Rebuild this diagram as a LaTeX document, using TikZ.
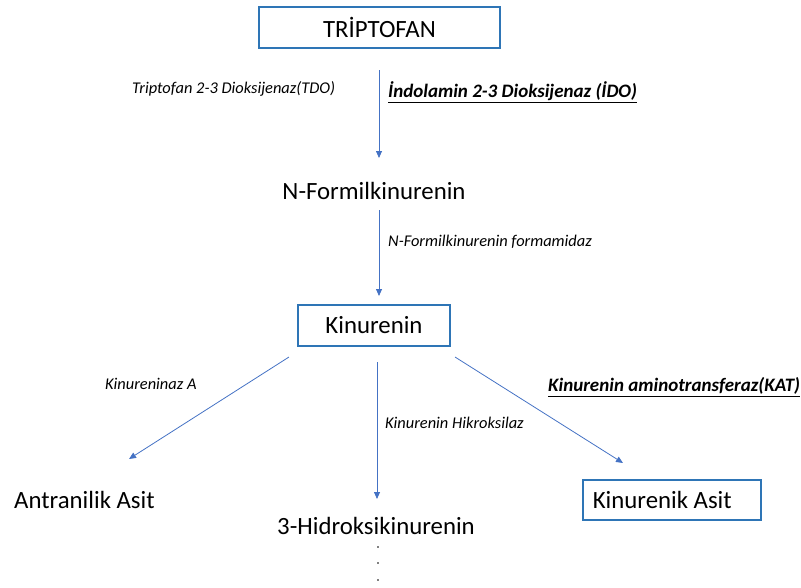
\documentclass[tikz,border=0pt]{standalone}
\usepackage{fontspec}
\setmainfont{Carlito}
\usetikzlibrary{arrows.meta}
\definecolor{boxblue}{HTML}{2E75B6}
\definecolor{arrblue}{HTML}{4472C4}
\tikzset{
  box/.style={draw=boxblue, line width=1.6pt, inner sep=0pt, font=\fontsize{24.8}{28}\selectfont},
  metab/.style={inner sep=0pt, font=\fontsize{24.8}{28}\selectfont},
  enz/.style={inner sep=0pt, font=\fontsize{16.4}{19}\selectfont\itshape},
  enzb/.style={inner sep=0pt, font=\fontsize{19}{22}\selectfont\bfseries\itshape},
  arr/.style={draw=arrblue, line width=0.8pt, -{Triangle[length=7pt,width=6pt]}},
  dotn/.style={circle, fill=black, inner sep=0pt, minimum size=1.8pt}
}
\begin{document}
\begin{tikzpicture}[x=1pt,y=-1pt]
\useasboundingbox (0,0) rectangle (801,587);
\node[box, minimum width=241pt, minimum height=41pt] (trp) at (379.5,27.5) {TRİPTOFAN};
\node[metab] (nfk) at (374,191) {N-Formilkinurenin};
\node[box, minimum width=152pt, minimum height=41pt] (kyn) at (374,325.5) {Kinurenin};
\node[metab, anchor=west] (aa) at (14,500) {Antranilik Asit};
\node[metab] (hk) at (376,526) {3-Hidroksikinurenin};
\node[box, minimum height=40pt, anchor=west, text width=168pt, align=flush left, inner xsep=5pt] (ka) at (582,500) {\hspace*{5pt}Kinurenik Asit};

\coordinate (a1s) at (379,70);
\coordinate (a1e) at (379,158);
\coordinate (a2s) at (379,210);
\coordinate (a2e) at (379,296);
\coordinate (ls) at (289,357);
\coordinate (le) at (129,459);
\coordinate (ms) at (377,362);
\coordinate (me) at (377,499);
\coordinate (rs) at (455,357);
\coordinate (re) at (623,463);
\draw[arr] (a1s) -- (a1e);
\draw[arr] (a2s) -- (a2e);
\draw[arr] (ls) -- (le);
\draw[arr] (ms) -- (me);
\draw[arr] (rs) -- (re);

\node[enz, anchor=west] (tdo) at (132,89) {Triptofan 2-3 Dioksijenaz(TDO)};
\node[enzb, anchor=west] (ido) at (388,92) {\underline{İndolamin 2-3 Dioksijenaz (İDO)}};
\node[enz, anchor=west] (nfa) at (388,242) {N-Formilkinurenin formamidaz};
\node[enz, anchor=west] (kna) at (105,384) {Kinureninaz A};
\node[enzb, anchor=west] (kat) at (548,387) {\underline{Kinurenin aminotransferaz(KAT)}};
\node[enz, anchor=west] (kmo) at (385,423) {Kinurenin Hikroksilaz};

\node[dotn] (d1) at (378,547) {};
\node[dotn] (d2) at (378,563) {};
\node[dotn] (d3) at (378,580) {};
\end{tikzpicture}
\end{document}
